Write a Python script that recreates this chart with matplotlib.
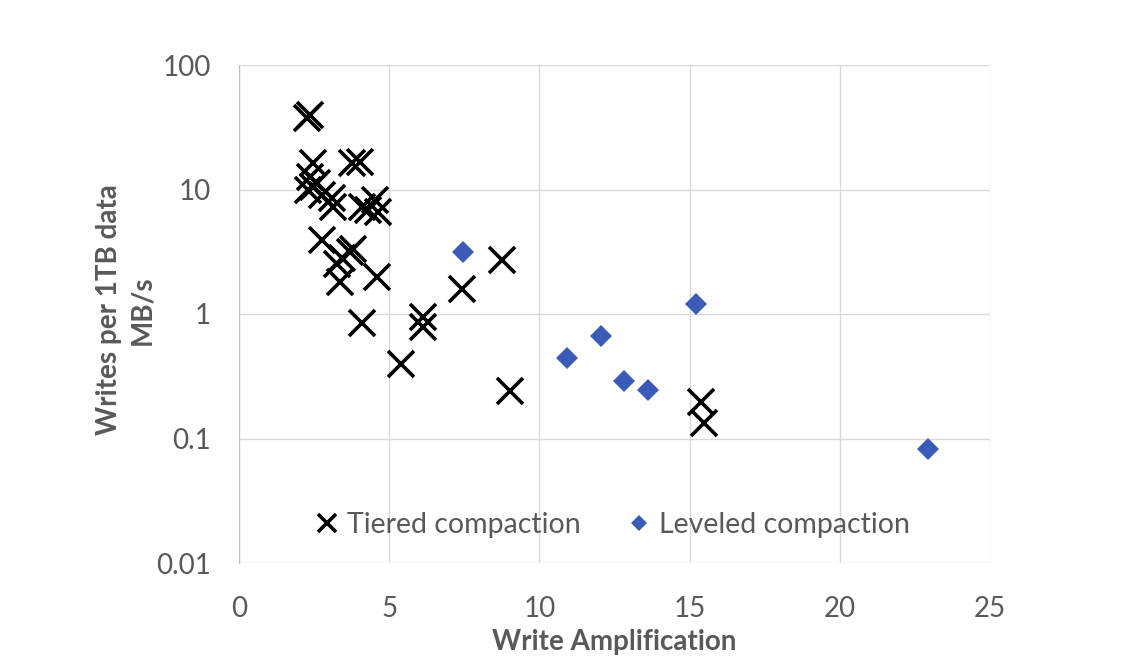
import numpy as np
import matplotlib
matplotlib.use("Agg")
import matplotlib.pyplot as plt

# Tiered compaction (write amplification, MB/s per 1TB)
tier_x = [2.28, 2.38, 2.48, 3.76, 4.03,
          2.37, 2.59, 2.31, 2.76, 3.09, 3.14, 2.45,
          4.53, 4.31, 4.64, 4.09,
          2.76, 3.70, 3.42, 3.26, 3.81,
          3.37, 4.59, 4.09, 6.13, 6.14, 5.39,
          7.41, 8.77, 9.01, 15.39, 15.47]
tier_y = [37.5, 40.0, 16.2, 16.2, 16.7,
          12.7, 11.2, 9.9, 9.0, 8.5, 7.3, 10.5,
          8.2, 6.8, 6.6, 7.3,
          3.9, 3.16, 2.8, 2.5, 3.3,
          1.82, 2.0, 0.84, 0.95, 0.78, 0.40,
          1.58, 2.72, 0.24, 0.198, 0.132]

# Leveled compaction
lev_x = [7.46, 10.91, 12.05, 12.80, 13.63, 15.20, 22.95]
lev_y = [3.13, 0.44, 0.67, 0.29, 0.245, 1.2, 0.083]

xticks = [0, 5, 10, 15, 20, 25]
yticks = [0.01, 0.1, 1, 10, 100]
ytick_labels = ["0.01", "0.1", "1", "10", "100"]

GRAY = "#595959"
FS = 20
plt.rcParams["font.family"] = ["Lato", "DejaVu Sans"]

fig = plt.figure(figsize=(11.48, 6.68), dpi=100)
ax = fig.add_axes([239 / 1148, 1 - 563 / 668, 751 / 1148, 498 / 668])

ax.plot(tier_x, tier_y, ls="none", marker="x", ms=19, mew=2.6, color="black",
        label="Tiered compaction", zorder=3)
ax.plot(lev_x, lev_y, ls="none", marker="D", ms=11.5, mew=0, color="#3a5cb8",
        label="Leveled compaction", zorder=3)

ax.set_yscale("log")
ax.set_xlim(0, 25)
ax.set_ylim(0.01, 100)
ax.set_xticks(xticks)
ax.set_yticks(yticks)
ax.set_yticklabels(ytick_labels)
ax.minorticks_off()
ax.grid(True, color="#d9d9d9", lw=1.0, zorder=0)
ax.tick_params(length=0, labelsize=FS, labelcolor=GRAY)
ax.tick_params(axis="x", pad=24)
ax.tick_params(axis="y", pad=20)
for s in ["top", "right", "bottom"]:
    ax.spines[s].set_visible(False)
ax.spines["left"].set_color("#bfbfbf")

ax.set_xlabel("Write Amplification", fontsize=FS, fontweight="bold", color=GRAY)
ax.xaxis.set_label_coords(0.5, -0.133)
ax.set_ylabel("Writes per 1TB data\nMB/s", fontsize=FS, fontweight="bold",
              color=GRAY, linespacing=1.35)
ax.yaxis.set_label_coords(-0.112, 0.508)

leg = ax.legend(loc="center", bbox_to_anchor=(0.496, 0.076), ncol=2, frameon=False,
                fontsize=20.5, markerscale=0.7, handletextpad=0.2, columnspacing=1.55,
                handlelength=1.0)
for t in leg.get_texts():
    t.set_color(GRAY)

fig.savefig("out.png", dpi=100, facecolor="white")
